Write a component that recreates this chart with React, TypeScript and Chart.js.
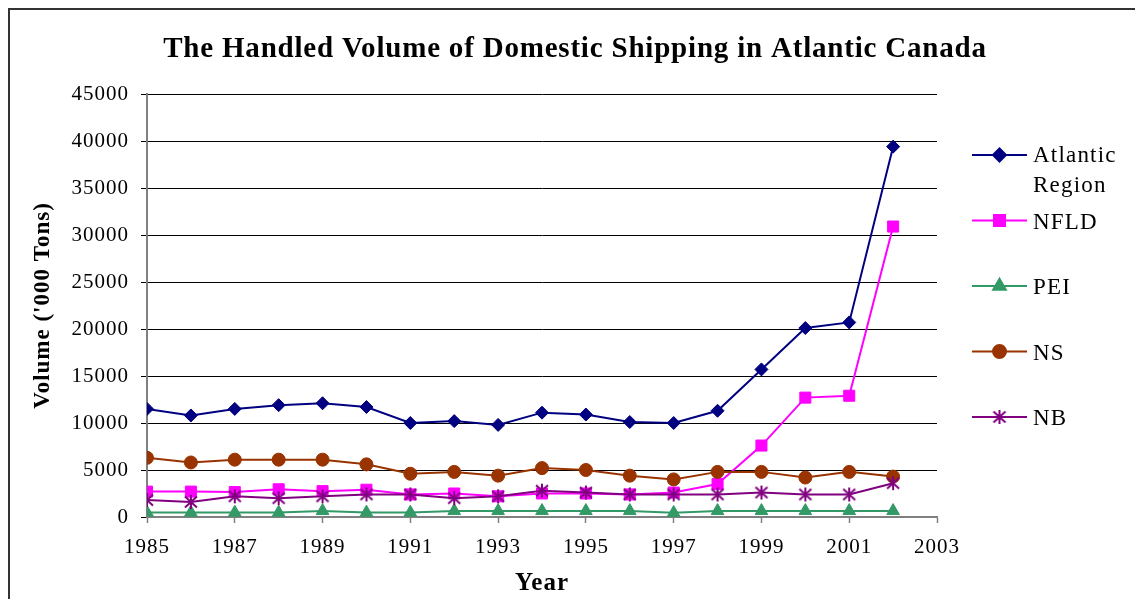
import React, { useEffect, useRef } from 'react';
import { Chart, registerables } from 'chart.js';
import { drawPoint } from 'chart.js/helpers';

Chart.register(...registerables);

const chartTitle = 'The Handled Volume of Domestic Shipping in Atlantic Canada';
const xAxisTitle = 'Year';
const yAxisTitle = "Volume ('000 Tons)";

const years = [1985, 1986, 1987, 1988, 1989, 1990, 1991, 1992, 1993, 1994, 1995, 1996, 1997, 1998, 1999, 2000, 2001, 2002];

const atlanticRegion = [11500, 10800, 11500, 11900, 12100, 11700, 10000, 10200, 9800, 11100, 10900, 10100, 10000, 11300, 15700, 20100, 20700, 39400];
const nfld = [2700, 2700, 2650, 2950, 2750, 2900, 2400, 2500, 2200, 2500, 2500, 2400, 2600, 3500, 7600, 12700, 12900, 30900];
const pei = [480, 480, 480, 480, 650, 480, 480, 650, 650, 650, 650, 650, 450, 650, 650, 650, 650, 650];
const ns = [6300, 5800, 6100, 6100, 6100, 5600, 4600, 4800, 4400, 5200, 5000, 4400, 4000, 4800, 4800, 4200, 4800, 4300];
const nb = [1800, 1600, 2200, 2000, 2200, 2400, 2400, 2000, 2200, 2800, 2600, 2400, 2400, 2400, 2600, 2400, 2400, 3600];

const seriesNames = ['Atlantic Region', 'NFLD', 'PEI', 'NS', 'NB'];
const seriesValues = [atlanticRegion, nfld, pei, ns, nb];
const seriesColors = ['#000080', '#FF00FF', '#339966', '#993300', '#800080'];
const seriesMarkers = ['rectRot', 'rect', 'triangle', 'circle', 'asterisk'];
const markerRadius = [6.5, 7.8, 7.3, 6.5, 7];

const xMin = 1985;
const xMax = 2003;
const xStep = 2;
const yMin = 0;
const yMax = 45000;
const yStep = 5000;

const SERIF = "'Liberation Serif', 'Times New Roman', serif";

function makeAsterisk(color: string) {
  const c = document.createElement('canvas');
  c.width = 16;
  c.height = 16;
  const g = c.getContext('2d')!;
  g.strokeStyle = color;
  g.lineWidth = 2;
  g.lineCap = 'butt';
  g.beginPath();
  g.moveTo(2, 2.5);
  g.lineTo(14, 13.5);
  g.moveTo(14, 2.5);
  g.lineTo(2, 13.5);
  g.moveTo(8, 1);
  g.lineTo(8, 15);
  g.stroke();
  return c;
}

export default function App() {
  const ref = useRef<HTMLCanvasElement>(null);
  useEffect(() => {
    const canvas = ref.current!;
    const styles = seriesMarkers.map((m, i) => (m === 'asterisk' ? makeAsterisk(seriesColors[i]) : m));

    const framePlugin = {
      id: 'frameAndText',
      beforeDraw(chart: any) {
        const ctx = chart.ctx;
        ctx.save();
        ctx.fillStyle = '#ffffff';
        ctx.fillRect(0, 0, chart.width, chart.height);
        ctx.strokeStyle = '#333333';
        ctx.lineWidth = 2;
        ctx.strokeRect(9, 9, chart.width + 40, chart.height + 40);
        ctx.restore();
        ctx.letterSpacing = '1px';
      },
      afterDraw(chart: any) {
        const ctx = chart.ctx;
        ctx.save();
        ctx.letterSpacing = '0.8px';
        ctx.fillStyle = '#000';
        ctx.font = `bold 29px ${SERIF}`;
        ctx.textAlign = 'center';
        ctx.textBaseline = 'alphabetic';
        ctx.fillText(chartTitle, 575, 57);

        const lineX0 = 972;
        const lineX1 = 1027;
        const textX = 1033;
        ctx.letterSpacing = '1.2px';
        ctx.font = `23px ${SERIF}`;
        ctx.textAlign = 'left';
        seriesNames.forEach((name, i) => {
          const y = 155 + i * 65.5;
          const mx = (lineX0 + lineX1) / 2;
          ctx.strokeStyle = seriesColors[i];
          ctx.fillStyle = seriesColors[i];
          ctx.lineWidth = 2;
          ctx.beginPath();
          ctx.moveTo(lineX0, y);
          ctx.lineTo(lineX1, y);
          ctx.stroke();
          const st = styles[i];
          if (typeof st === 'string') {
            drawPoint(ctx, { pointStyle: st, radius: markerRadius[i], rotation: 0, borderWidth: 1 } as any, mx, y);
          } else {
            ctx.drawImage(st, mx - st.width / 2, y - st.height / 2);
          }
          ctx.fillStyle = '#000';
          const words = name.split(' ');
          const lines = ctx.measureText(name).width > 95 ? words : [name];
          const base = lines.length > 1 ? y + 7 : y + 8;
          lines.forEach((ln, j) => ctx.fillText(ln, textX, base + j * 30));
        });
        ctx.restore();
      },
    };

    const datasets = seriesNames.map((name, i) => ({
      label: name,
      data: years.map((yr, k) => ({ x: yr, y: seriesValues[i][k] })),
      borderColor: seriesColors[i],
      backgroundColor: seriesColors[i],
      pointBackgroundColor: seriesColors[i],
      pointBorderColor: seriesColors[i],
      pointStyle: styles[i],
      pointRadius: markerRadius[i],
      pointBorderWidth: 1,
      borderWidth: 2,
      tension: 0,
      fill: false,
      order: seriesNames.length - i,
    }));
    const chart = new Chart(canvas, {
      type: 'line',
      data: { datasets },
      plugins: [framePlugin],
      options: {
        animation: false,
        responsive: false,
        devicePixelRatio: 1,
        layout: { padding: { left: 0, top: 94, right: 198, bottom: 0 } },
        plugins: {
          legend: { display: false },
          title: { display: false },
          tooltip: { enabled: false },
        },
        scales: {
          x: {
            type: 'linear',
            min: xMin,
            max: xMax,
            afterFit: (s: any) => { s.height = 82; },
            ticks: {
              stepSize: xStep,
              callback: (v: any) => String(v),
              font: { family: SERIF, size: 21 },
              color: '#000',
              padding: 12,
              maxRotation: 0,
            },
            grid: { drawOnChartArea: false, drawTicks: true, tickLength: 6, tickColor: '#808080', tickWidth: 1.5 },
            border: { display: true, color: '#808080', width: 2 },
            title: { display: true, text: xAxisTitle, font: { family: SERIF, size: 25, weight: 'bold' }, color: '#000', padding: { top: 0, bottom: 0 } },
          },
          y: {
            type: 'linear',
            min: yMin,
            max: yMax,
            afterFit: (s: any) => { s.width = 147; },
            ticks: {
              stepSize: yStep,
              callback: (v: any) => String(v),
              font: { family: SERIF, size: 21 },
              color: '#000',
              padding: 12,
            },
            grid: { drawOnChartArea: true, color: '#000', lineWidth: 1, drawTicks: true, tickLength: 6, tickColor: '#000' },
            border: { display: true, color: '#808080', width: 2 },
            title: { display: true, text: yAxisTitle, font: { family: SERIF, size: 23, weight: 'bold' }, color: '#000', padding: { top: 29, bottom: 0 } },
          },
        },
      } as any,
    });
    return () => chart.destroy();
  }, []);
  return (
    <div style={{ position: 'fixed', left: 0, top: 0, width: 1135, height: 599, background: '#fff', overflow: 'hidden' }}>
      <canvas ref={ref} width={1135} height={599} style={{ display: 'block' }} />
    </div>
  );
}
